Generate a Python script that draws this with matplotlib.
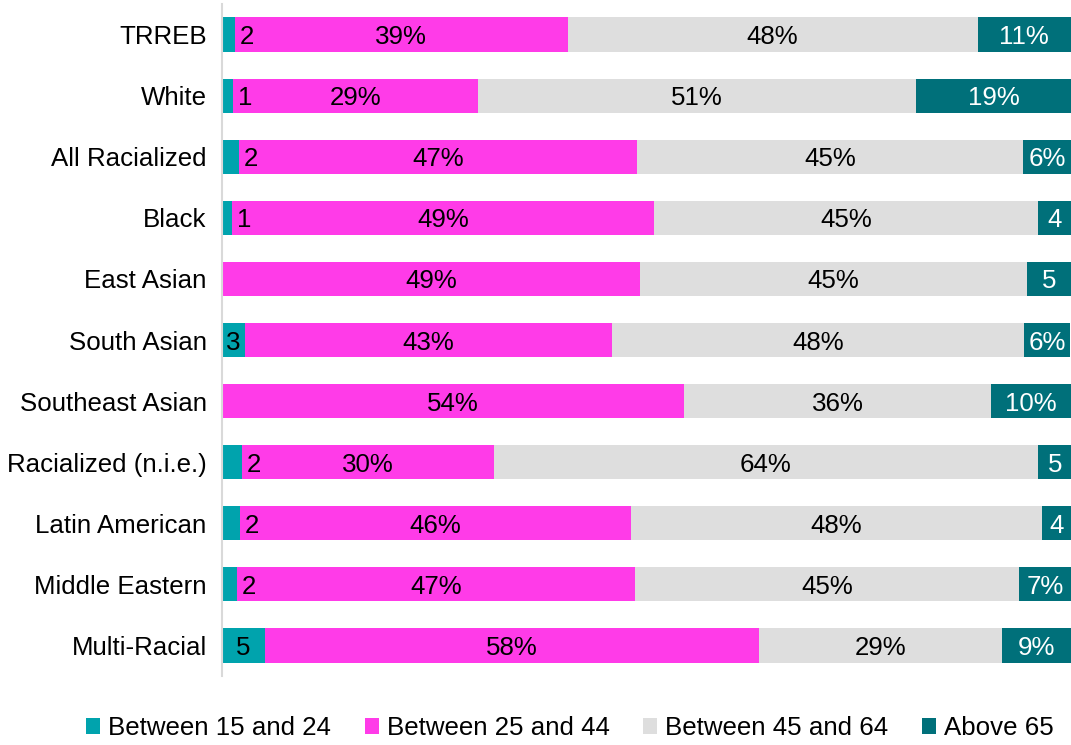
import matplotlib
matplotlib.use("Agg")
import matplotlib.pyplot as plt
from matplotlib.patches import Patch
import numpy as np

plt.rcParams['font.family'] = ['Liberation Sans', 'DejaVu Sans']

groups = ["TRREB", "White", "All Racialized", "Black", "East Asian", "South Asian",
          "Southeast Asian", "Racialized (n.i.e.)", "Latin American",
          "Middle Eastern", "Multi-Racial"]

age_15_24 = [1.5, 1.3, 2.0, 1.2, 0.0, 2.7, 0.0, 2.4, 2.1, 1.8, 5.1]
age_25_44 = [39.2, 28.9, 46.9, 49.7, 49.2, 43.2, 54.4, 29.6, 46.1, 46.8, 58.1]
age_45_64 = [48.3, 51.5, 45.5, 45.2, 45.6, 48.6, 36.2, 64.1, 48.4, 45.3, 28.7]
age_65_up = [11.0, 18.4, 5.7, 3.9, 5.2, 5.4, 9.4, 4.0, 3.4, 6.1, 8.1]

lab_15_24 = ["2", "1", "2", "1", "", "3", "", "2", "2", "2", "5"]
lab_25_44 = ["39%", "29%", "47%", "49%", "49%", "43%", "54%", "30%", "46%", "47%", "58%"]
lab_45_64 = ["48%", "51%", "45%", "45%", "45%", "48%", "36%", "64%", "48%", "45%", "29%"]
lab_65_up = ["11%", "19%", "6%", "4", "5", "6%", "10%", "5", "4", "7%", "9%"]

series = ["Between 15 and 24", "Between 25 and 44", "Between 45 and 64", "Above 65"]
colors = ["#00A3AD", "#FF3BE8", "#DEDEDE", "#00707A"]
text_colors = ["black", "black", "black", "white"]
fs = 18.6

fig = plt.figure(figsize=(10.71, 7.45), dpi=100)
ax = fig.add_axes([222 / 1071, 69 / 745, 1 - 222 / 1071, 672 / 745])

y = np.arange(len(groups))
data = [age_15_24, age_25_44, age_45_64, age_65_up]
labels = [lab_15_24, lab_25_44, lab_45_64, lab_65_up]
left = np.zeros(len(groups))
for k in range(4):
    vals = np.array(data[k])
    ax.barh(y, vals, left=left, height=0.56, color=colors[k], edgecolor="none")
    for i in range(len(groups)):
        if labels[k][i] == "":
            continue
        xc = left[i] + vals[i] / 2
        if k == 0 and vals[i] < 2.5:
            xc = left[i] + vals[i] + 1.4
        ax.text(xc, y[i], labels[k][i], ha="center", va="center_baseline",
                fontsize=fs, color=text_colors[k])
    left += vals

ax.set_xlim(0, 100)
ax.set_ylim(len(groups) - 0.5, -0.5)
ax.set_yticks(y)
ax.set_yticklabels(groups, fontsize=fs)
ax.tick_params(axis="y", length=0, pad=11)
for t in ax.get_yticklabels():
    t.set_verticalalignment("center_baseline")
ax.set_xticks([])
for s in ["top", "right", "bottom"]:
    ax.spines[s].set_visible(False)
ax.spines["left"].set_color("#D9D9D9")
ax.spines["left"].set_linewidth(1.5)

handles = [Patch(facecolor=c, edgecolor="none") for c in colors]
fig.legend(handles, series, loc="lower center", bbox_to_anchor=(0.532, -0.025),
           ncol=4, frameon=False, fontsize=fs, handlelength=0.55, handleheight=0.55,
           handletextpad=0.3, columnspacing=1.3)

fig.savefig("out.png", dpi=100)
